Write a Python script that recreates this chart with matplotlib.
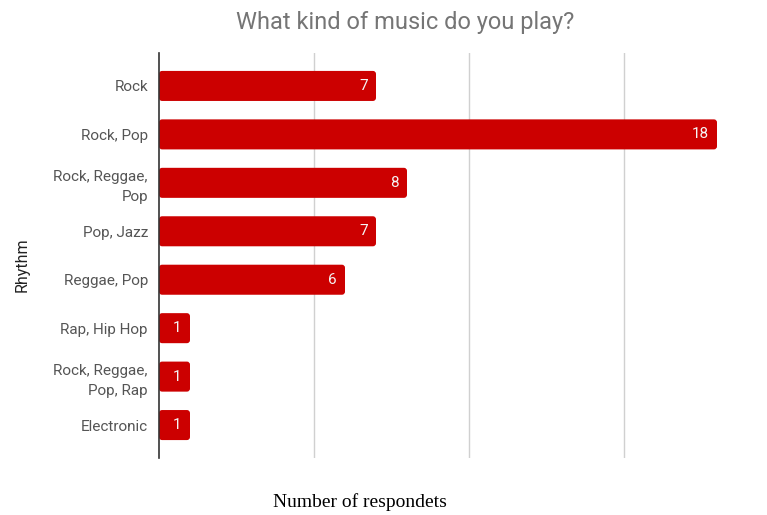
import matplotlib.pyplot as plt
from matplotlib.patches import FancyBboxPatch

# data
rhythms = ["Rock", "Rock, Pop", "Rock, Reggae,\nPop", "Pop, Jazz", "Reggae, Pop",
           "Rap, Hip Hop", "Rock, Reggae,\nPop, Rap", "Electronic"]
counts = [7, 18, 8, 7, 6, 1, 1, 1]

plt.rcParams['font.family'] = ['Roboto', 'DejaVu Sans']

fig = plt.figure(figsize=(7.67, 5.15), dpi=100)
ax = fig.add_axes([159 / 767, 1 - 458 / 515, (748 - 159) / 767, (458 - 53) / 515])

bar_h = 0.62
red = '#cc0000'
for i, v in enumerate(counts):
    # rounded bar, rounding compensated for unequal x/y pixel scale
    p = FancyBboxPatch((0, i - bar_h / 2), v, bar_h,
                       boxstyle="round,pad=0,rounding_size=0.1",
                       mutation_aspect=0.64, facecolor=red, edgecolor='none', zorder=3)
    ax.add_patch(p)
    ax.text(v - 0.27, i, str(v), color='#f5f5f5', ha='right', va='center',
            fontsize=11, zorder=4)

ax.set_xlim(0, 19)
ax.set_ylim(len(counts) - 0.32, -0.68)
ax.set_yticks(range(len(counts)))
ax.set_yticklabels(rhythms, color='#555555', fontsize=11, linespacing=1.5)
ax.set_xticks([5, 10, 15])
ax.set_xticklabels([])
ax.tick_params(axis='both', length=0, pad=8)
ax.grid(axis='x', color='#d0d0d0', linewidth=1, zorder=0)
for s in ['top', 'right', 'bottom']:
    ax.spines[s].set_visible(False)
ax.spines['left'].set_color('#333333')
ax.spines['left'].set_linewidth(1.2)
ax.spines['left'].set_zorder(5)

fig.text(22 / 767, 1 - 265 / 515, "Rhythm", color='#222222', fontsize=11.5,
         rotation=90, ha='center', va='center')

fig.text(405 / 767, 1 - 22 / 515, "What kind of music do you play?", color='#757575',
         fontsize=17, ha='center', va='center')
fig.text(360 / 767, 1 - 502 / 515, "Number of respondets", family='Liberation Serif',
         fontsize=14, ha='center', va='center', color='black')

fig.savefig('out.png', dpi=100)
